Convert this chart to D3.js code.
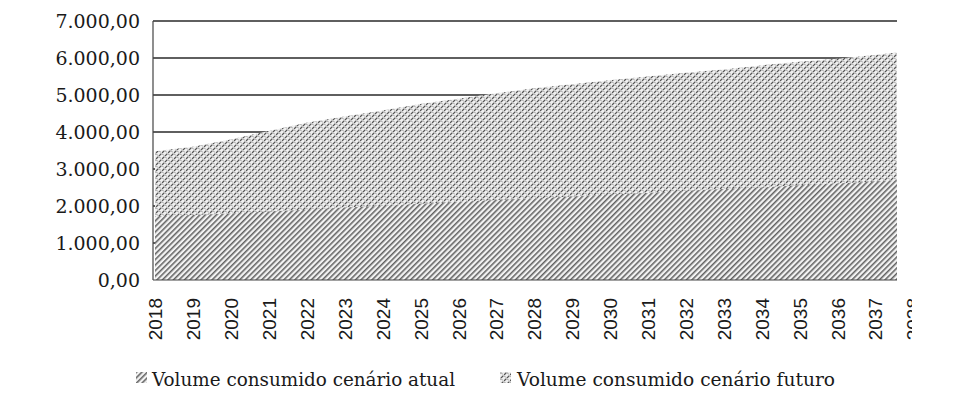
<!DOCTYPE html>
<html>
<head>
<meta charset="utf-8">
<script src="https://cdn.jsdelivr.net/npm/d3@7"></script>
<style>
  html, body { margin: 0; padding: 0; background: #fff; }
  svg { display: block; }
</style>
</head>
<body>
<svg id="chart" width="971" height="410"></svg>
<script>
// ---- data ----
const years = ["2018","2019","2020","2021","2022","2023","2024","2025","2026","2027",
               "2028","2029","2030","2031","2032","2033","2034","2035","2036","2037","2038"];
const volumeAtual = [1720,1760,1800,1850,1900,1960,2000,2060,2110,2160,
                     2200,2260,2310,2350,2410,2460,2500,2560,2610,2660,2720];
const volumeFuturo = [3480,3600,3800,4030,4250,4420,4580,4760,4900,5050,
                      5180,5290,5400,5500,5600,5690,5800,5900,5980,6080,6200];
const yTicks = [0,1000,2000,3000,4000,5000,6000,7000];
const seriesNames = ["Volume consumido cenário atual", "Volume consumido cenário futuro"];

// ---- layout ----
const svg = d3.select("#chart");
const plot = {left: 153, right: 897, top: 21, bottom: 280};

const x = d3.scalePoint().domain(years).range([155, 913]);
const y = d3.scaleLinear().domain([0, 7000]).range([plot.bottom, plot.top]);

const ptBR = d3.formatLocale({decimal: ",", thousands: ".", grouping: [3], currency: ["", ""]});
const fmt = ptBR.format(",.2f");

// ---- patterns ----
const defs = svg.append("defs");
const pDiag = defs.append("pattern")
  .attr("id", "pAtual").attr("patternUnits", "userSpaceOnUse")
  .attr("width", 3.9).attr("height", 3.9)
  .attr("patternTransform", "rotate(45)");
pDiag.append("rect").attr("width", 3.9).attr("height", 3.9).attr("fill", "#f2f2f2");
pDiag.append("line").attr("x1", 0.8).attr("y1", 0).attr("x2", 0.8).attr("y2", 3.9)
  .attr("stroke", "#4d4d4d").attr("stroke-width", 1.35);

const pWeave = defs.append("pattern")
  .attr("id", "pFuturo").attr("patternUnits", "userSpaceOnUse")
  .attr("width", 6).attr("height", 6);
pWeave.append("rect").attr("width", 6).attr("height", 6).attr("fill", "#efefef");
pWeave.append("path")
  .attr("d", "M0,3 L2.4,0.6 M3,6 L5.4,3.6 M3,0 L5.4,-2.4 M0,9 L2.4,6.6")
  .attr("stroke", "#555").attr("stroke-width", 1.3);
pWeave.append("path")
  .attr("d", "M3.6,1.2 L4.8,2.4 M0.6,4.2 L1.8,5.4")
  .attr("stroke", "#7a7a7a").attr("stroke-width", 1);

defs.append("clipPath").attr("id", "plotClip")
  .append("rect").attr("x", plot.left).attr("y", 0)
  .attr("width", plot.right - plot.left).attr("height", plot.bottom + 1);
defs.append("clipPath").attr("id", "labelClip")
  .append("rect").attr("x", 0).attr("y", 0).attr("width", 912).attr("height", 410);

// ---- gridlines ----
const grid = svg.append("g");
grid.selectAll("line").data(yTicks.filter(d => d > 0)).join("line")
  .attr("x1", plot.left).attr("x2", plot.right)
  .attr("y1", d => y(d)).attr("y2", d => y(d))
  .attr("stroke", "#2a2a2a").attr("stroke-width", 1.3);

// ---- areas ----
const areaGen = vals => d3.area()
  .x((d, i) => x(years[i]))
  .y0(y(0))
  .y1(d => y(d))(vals);

const areas = svg.append("g").attr("clip-path", "url(#plotClip)");
areas.append("path").attr("d", areaGen(volumeFuturo)).attr("fill", "url(#pFuturo)");
areas.append("path").attr("d", areaGen(volumeAtual)).attr("fill", "url(#pAtual)");

// ---- axis lines ----
svg.append("line").attr("x1", plot.left).attr("x2", plot.left)
  .attr("y1", plot.top).attr("y2", plot.bottom)
  .attr("stroke", "#444").attr("stroke-width", 1.2);
svg.append("line").attr("x1", plot.left).attr("x2", plot.right)
  .attr("y1", plot.bottom).attr("y2", plot.bottom)
  .attr("stroke", "#444").attr("stroke-width", 1.2);

// ---- y labels ----
const yAxis = d3.axisLeft(y).tickValues(yTicks).tickFormat(fmt).tickSize(0).tickPadding(13);
const gy = svg.append("g").attr("transform", `translate(${plot.left},0)`).call(yAxis);
gy.select(".domain").remove();
gy.selectAll("text")
  .attr("font-family", "'DejaVu Serif', serif")
  .attr("font-size", 19).attr("fill", "#1a1a1a");

// ---- x labels ----
const xAxis = d3.axisBottom(x).tickSize(0).tickPadding(0);
const gx = svg.append("g").attr("transform", "translate(0,298)")
  .attr("clip-path", "url(#labelClip)").call(xAxis);
gx.select(".domain").remove();
gx.selectAll("text")
  .attr("font-family", "'Liberation Sans', Arial, sans-serif")
  .attr("font-size", 19).attr("fill", "#1a1a1a")
  .attr("text-anchor", "end")
  .attr("transform", "rotate(-90)")
  .attr("x", 0).attr("y", 0).attr("dy", "0.36em");

// ---- legend ----
const legendItems = [
  {name: seriesNames[0], fill: "url(#pAtual)", ix: 136, tx: 152, w: 303},
  {name: seriesNames[1], fill: "url(#pFuturo)", ix: 500, tx: 517, w: 318}
];
const lg = svg.append("g");
const li = lg.selectAll("g").data(legendItems).join("g");
li.append("rect").attr("x", d => d.ix).attr("y", 372).attr("width", 11).attr("height", 11)
  .attr("fill", d => d.fill);
li.append("text").attr("x", d => d.tx).attr("y", 386)
  .attr("font-family", "'DejaVu Serif', serif").attr("font-size", 18).attr("fill", "#1a1a1a")
  .attr("textLength", d => d.w).attr("lengthAdjust", "spacingAndGlyphs")
  .text(d => d.name);
</script>
</body>
</html>
